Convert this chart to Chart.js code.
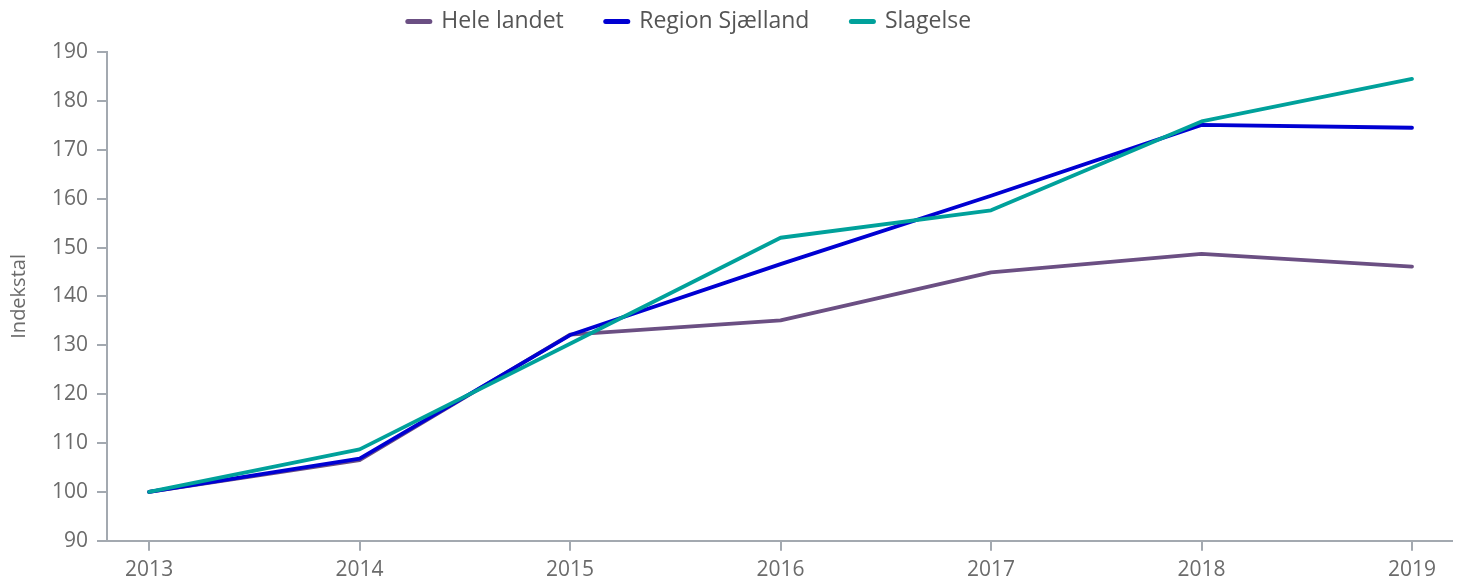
<!DOCTYPE html>
<html>
<head>
<meta charset="utf-8">
<script src="https://cdn.jsdelivr.net/npm/chart.js@4/dist/chart.umd.min.js"></script>
<style>
  html, body { margin: 0; padding: 0; background: #fff; }
  #wrap { width: 1467px; height: 581px; }
</style>
</head>
<body>
<div id="wrap"><canvas id="chart"></canvas></div>
<script>
// data
var years = [2013, 2014, 2015, 2016, 2017, 2018, 2019];
var heleLandet = [100, 106.5, 132.2, 135.1, 144.9, 148.7, 146.1];
var regionSjaelland = [100, 106.8, 132.1, 146.6, 160.6, 175.1, 174.5];
var slagelse = [100, 108.7, 130.3, 152.0, 157.6, 175.8, 184.5];
var yTicks = [90, 100, 110, 120, 130, 140, 150, 160, 170, 180, 190];

var FONT = "'Open Sans', 'Noto Sans', sans-serif";
var GREY = '#6b6b6b';
var AXIS = '#a3a9b0';

function points(vals) {
    return vals.map(function (v, i) { return { x: years[i], y: v }; });
}

function serie(label, vals, color, order) {
    return {
        label: label,
        data: points(vals),
        borderColor: color,
        backgroundColor: color,
        borderWidth: 3.8,
        borderCapStyle: 'round',
        borderJoinStyle: 'round',
        pointRadius: 0,
        tension: 0,
        order: order
    };
}

// legenden: lav højde + flyttet op/venstre som i originalen
var legendTweak = {
    id: 'legendTweak',
    beforeLayout: function (chart) {
        var lg = chart.legend;
        if (lg && !lg._tweaked) {
            var fit = lg.fit;
            lg.fit = function () {
                fit.call(this);
                this.height = 52;
            };
            lg._tweaked = true;
        }
    },
    afterLayout: function (chart) {
        var lg = chart.legend;
        lg.top -= 32;
        lg.left -= 40;
        lg.right -= 40;
    }
};

var ctx = document.getElementById('chart');
var chart = new Chart(ctx, {
    type: 'line',
    data: {
        datasets: [
            serie('Hele landet', heleLandet, '#6b4f83', 3),
            serie('Region Sjælland', regionSjaelland, '#0000d2', 2),
            serie('Slagelse', slagelse, '#00a19b', 1)
        ]
    },
    options: {
        responsive: true,
        maintainAspectRatio: false,
        animation: false,
        layout: { padding: { top: 0, right: 15, bottom: -9, left: 7 } },
        plugins: {
            tooltip: { enabled: false },
            legend: {
                position: 'top',
                labels: {
                    color: '#555',
                    font: { family: FONT, size: 23 },
                    usePointStyle: true,
                    pointStyleWidth: 22,
                    padding: 42,
                    sort: function (a, b) { return a.datasetIndex - b.datasetIndex; },
                    generateLabels: function (chart) {
                        var items = Chart.defaults.plugins.legend.labels.generateLabels(chart);
                        items.forEach(function (it) {
                            it.pointStyle = 'line';
                            it.lineWidth = 5;
                            it.lineCap = 'round';
                        });
                        return items;
                    }
                }
            }
        },
        scales: {
            x: {
                type: 'linear',
                min: 2012.8,
                max: 2019.19,
                afterBuildTicks: function (scale) {
                    scale.ticks = years.map(function (y) { return { value: y }; });
                },
                ticks: {
                    color: GREY,
                    font: { family: FONT, size: 21 },
                    padding: 7,
                    callback: function (v) { return String(v); }
                },
                grid: { drawOnChartArea: false, drawTicks: true, tickLength: 10, color: AXIS, lineWidth: 2 },
                border: { color: AXIS, width: 2 }
            },
            y: {
                min: 90,
                max: 190,
                afterBuildTicks: function (scale) {
                    scale.ticks = yTicks.map(function (v) { return { value: v }; });
                },
                ticks: {
                    color: GREY,
                    font: { family: FONT, size: 21 },
                    padding: 9
                },
                grid: { drawOnChartArea: false, drawTicks: true, tickLength: 10, color: AXIS, lineWidth: 2 },
                border: { color: AXIS, width: 2 },
                title: {
                    display: true,
                    text: 'Indekstal',
                    color: GREY,
                    font: { family: FONT, size: 20 },
                    padding: { top: 0, bottom: 12 }
                }
            }
        }
    },
    plugins: [legendTweak]
});
</script>
</body>
</html>
